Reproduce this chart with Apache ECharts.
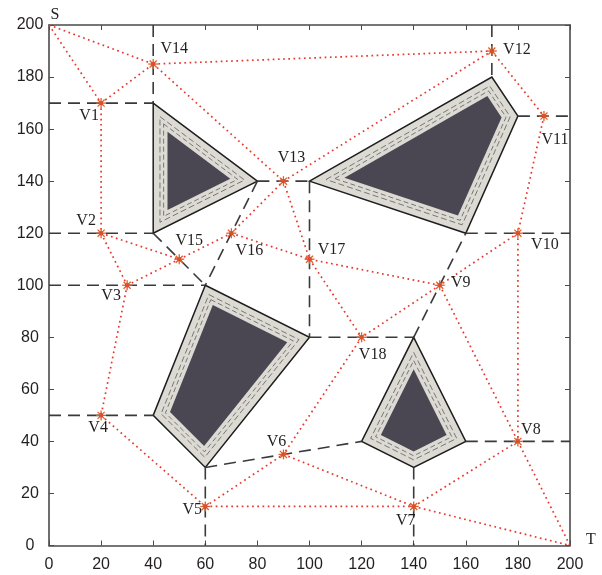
<!DOCTYPE html>
<html><head><meta charset="utf-8">
<script src="https://cdn.jsdelivr.net/npm/echarts@6/dist/echarts.min.js"></script>
<style>html,body{margin:0;padding:0;background:#fff}#c{width:602px;height:575px}</style>
</head><body><div id="c"></div>
<script>
// ---- data ----
const vertexNames = ['V1','V2','V3','V4','V5','V6','V7','V8','V9','V10','V11','V12','V13','V14','V15','V16','V17','V18'];
const vertexX = [20,20,30,20,60,90,140,180,150,180,190,170,90,40,50,70,100,120];
const vertexY = [170,120,100,50,15,35,15,40,100,120,165,190,140,185,110,120,110,80];
const terminalNames = ['S','T'];
const terminalX = [0,200];
const terminalY = [200,0];
const roadEdges = [
  ['S','V14'],['S','V1'],['V1','V14'],['V14','V12'],['V14','V13'],['V1','V2'],
  ['V2','V15'],['V2','V3'],['V3','V15'],['V15','V16'],['V16','V13'],['V16','V17'],
  ['V13','V17'],['V13','V12'],['V12','V11'],['V11','V10'],['V10','V9'],['V10','V8'],
  ['V9','V17'],['V9','V18'],['V9','V8'],['V17','V18'],['V18','V6'],['V3','V4'],
  ['V4','V5'],['V5','V6'],['V5','V7'],['V6','V7'],['V7','V8'],['V7','T'],['V8','T']
];
const obstacle1 = [[40,170],[80,140],[40,120]];
const obstacle2 = [[100,140],[170,180],[180,165],[160,120]];
const obstacle3 = [[60,100],[100,80],[60,30],[40,50]];
const obstacle4 = [[140,80],[160,40],[140,30],[120,40]];
const decompositionLines = [
  [40,200,40,170],[0,170,40,170],[0,120,40,120],[40,120,60,100],[80,140,60,100],
  [0,100,60,100],[80,140,100,140],[100,140,100,80],[100,80,140,80],[140,80,160,120],
  [170,200,170,180],[180,165,200,165],[160,120,200,120],[0,50,40,50],[160,40,200,40],
  [60,30,60,0],[140,30,140,0],[60,30,120,40]
];

// ---- layout (label pixel offsets) ----
const labelOffsets = {
  V1:[-12,13], V2:[-15,-12], V3:[-16,11], V4:[-3,12], V5:[-13,3], V6:[-7,-13],
  V7:[-8,14], V8:[13,-12], V9:[21,-2], V10:[27,12], V11:[11,24], V12:[25,-1],
  V13:[8,-23], V14:[21,-15], V15:[10,-18], V16:[18,18], V17:[22,-9], V18:[11,17],
  S:[6,-10], T:[21,-6]
};

const obstacles = [obstacle1, obstacle2, obstacle3, obstacle4];
const pointLookup = {};
vertexNames.forEach((n,i)=>{pointLookup[n]=[vertexX[i],vertexY[i]];});
terminalNames.forEach((n,i)=>{pointLookup[n]=[terminalX[i],terminalY[i]];});
const edgeData = roadEdges.map(e=>[pointLookup[e[0]][0],pointLookup[e[0]][1],pointLookup[e[1]][0],pointLookup[e[1]][1]]);

function inset(poly, d){
  let a=0; for(let i=0;i<poly.length;i++){const p=poly[i],q=poly[(i+1)%poly.length];a+=p[0]*q[1]-q[0]*p[1];}
  const s = a>0?1:-1;
  const lines = poly.map((p,i)=>{const q=poly[(i+1)%poly.length];let dx=q[0]-p[0],dy=q[1]-p[1];const L=Math.hypot(dx,dy);dx/=L;dy/=L;const nx=-dy*s,ny=dx*s;return {px:p[0]+nx*d,py:p[1]+ny*d,dx,dy};});
  const out=[];
  for(let i=0;i<lines.length;i++){
    const l1=lines[(i-1+lines.length)%lines.length], l2=lines[i];
    const den=l1.dx*l2.dy-l1.dy*l2.dx;
    const t=((l2.px-l1.px)*l2.dy-(l2.py-l1.py)*l2.dx)/den;
    out.push([l1.px+l1.dx*t,l1.py+l1.dy*t]);
  }
  return out;
}

const chart = echarts.init(document.getElementById('c'), null, {renderer:'canvas'});
const axisLineStyle = {color:'#4a4a4a', width:1.6};
const mk = (pos, show, isY) => ({
  type:'value', min:0, max:200, interval:20, position:pos,
  axisLine:{show:true, onZero:false, lineStyle:axisLineStyle},
  axisTick:{show:true, inside:true, length:5, lineStyle:{color:'#4a4a4a', width:1}},
  axisLabel:isY?{show:show, fontSize:16, color:'#231f20', fontFamily:'Liberation Sans', align:'center', margin:19}
              :{show:show, fontSize:16, color:'#231f20', fontFamily:'Liberation Sans', margin:11},
  splitLine:{show:false}
});

chart.setOption({
  animation:false,
  backgroundColor:'#fff',
  grid:{left:49, right:32, top:25, bottom:29.5, containLabel:false},
  xAxis:[mk('bottom',true,false), mk('top',false,false)],
  yAxis:[mk('left',true,true), mk('right',false,true)],
  series:[
    {
      type:'custom', silent:true, clip:false,
      data: obstacles.map((o,i)=>[i]),
      encode:{x:0},
      renderItem(params, api){
        const poly = obstacles[api.value(0)];
        const toPx = pts => pts.map(p=>api.coord(p));
        return {type:'group', children:[
          {type:'polygon', shape:{points:toPx(poly)}, style:{fill:'#dcdad3', stroke:'#1e1e1e', lineWidth:1.5}},
          {type:'polygon', shape:{points:toPx(inset(poly,2.6))}, style:{fill:null, stroke:'#6b6b6b', lineWidth:0.9, lineDash:[6,3]}},
          {type:'polygon', shape:{points:toPx(inset(poly,4.0))}, style:{fill:null, stroke:'#6b6b6b', lineWidth:0.9, lineDash:[5,3]}},
          {type:'polygon', shape:{points:toPx(inset(poly,5.5))}, style:{fill:'#4a4753', stroke:null}}
        ]};
      }
    },
    {
      type:'custom', silent:true, clip:false,
      data: decompositionLines,
      encode:{x:[0,2], y:[1,3]},
      renderItem(params, api){
        const a=api.coord([api.value(0),api.value(1)]), b=api.coord([api.value(2),api.value(3)]);
        return {type:'line', shape:{x1:a[0],y1:a[1],x2:b[0],y2:b[1]}, style:{stroke:'#3a3a3a', lineWidth:1.6, lineDash:[12,7]}};
      }
    },
    {
      type:'custom', silent:true, clip:false,
      data: edgeData,
      encode:{x:[0,2], y:[1,3]},
      renderItem(params, api){
        const a=api.coord([api.value(0),api.value(1)]), b=api.coord([api.value(2),api.value(3)]);
        return {type:'line', shape:{x1:a[0],y1:a[1],x2:b[0],y2:b[1]}, style:{stroke:'#e8372c', lineWidth:1.7, lineDash:[1.7,3.5]}};
      }
    },
    {
      type:'custom', silent:true, clip:false,
      data: vertexNames.map((n,i)=>[vertexX[i],vertexY[i],i]),
      renderItem(params, api){
        const c=api.coord([api.value(0),api.value(1)]);
        const name=vertexNames[api.value(2)];
        const off=labelOffsets[name];
        const r=5, children=[];
        for(let k=0;k<4;k++){
          const ang=k*Math.PI/4;
          children.push({type:'line', shape:{x1:c[0]-r*Math.cos(ang),y1:c[1]-r*Math.sin(ang),x2:c[0]+r*Math.cos(ang),y2:c[1]+r*Math.sin(ang)}, style:{stroke:'#e0602e', lineWidth:1.3}});
        }
        children.push({type:'circle', shape:{cx:c[0],cy:c[1],r:2.2}, style:{fill:'#d9502a'}});
        children.push({type:'text', x:c[0]+off[0], y:c[1]+off[1], style:{text:name, font:'16px "Liberation Serif"', fill:'#231f20', align:'center', verticalAlign:'middle'}});
        return {type:'group', children};
      }
    },
    {
      type:'custom', silent:true, clip:false,
      data: terminalNames.map((n,i)=>[terminalX[i],terminalY[i],i]),
      renderItem(params, api){
        const c=api.coord([api.value(0),api.value(1)]);
        const name=terminalNames[api.value(2)];
        const off=labelOffsets[name];
        return {type:'text', x:c[0]+off[0], y:c[1]+off[1], style:{text:name, font:'16px "Liberation Serif"', fill:'#231f20', align:'center', verticalAlign:'middle'}};
      }
    }
  ]
});
</script></body></html>
